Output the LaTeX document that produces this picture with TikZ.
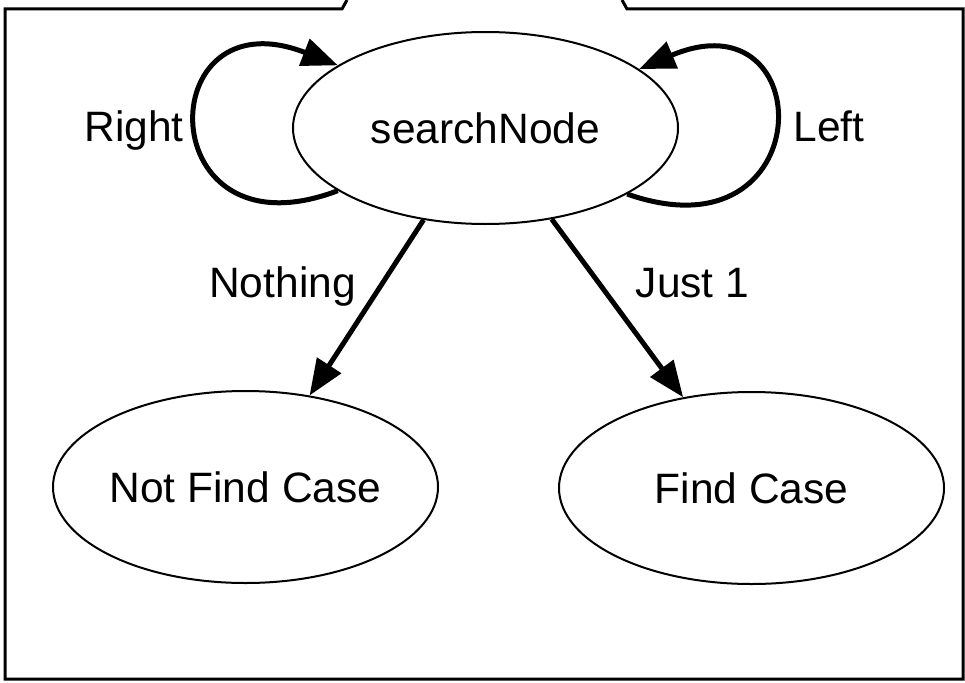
\documentclass[tikz,border=0pt]{standalone}
\usepackage{fontspec}
\setmainfont{Liberation Sans}
\usetikzlibrary{shapes.geometric,arrows.meta}
\begin{document}
\begin{tikzpicture}[x=1pt,y=-1pt,
  state/.style={ellipse,draw,line width=2pt,inner sep=0pt,minimum width=385pt,minimum height=192pt,font=\fontsize{42.5}{50}\selectfont},
  lbl/.style={anchor=base,inner sep=0pt,font=\fontsize{42.5}{50}\selectfont},
  conn/.style={line width=5pt,-{Triangle[length=36pt 0,width=28pt 0]}},
  frame/.style={line width=3pt}]
\useasboundingbox (0,0) rectangle (965,682);
\draw[frame] (347,0) -- (342,9) -- (5,9) -- (5,679) -- (963,679) -- (963,9) -- (627,9) -- (622,0);
\node[state] (s) at (485.5,128) {searchNode};
\node[state] (nf) at (245.5,487) {Not Find Case};
\node[state] (fc) at (751.5,488) {Find Case};
\draw[conn] (s.236.7) -- (nf.55.8);
\draw[conn] (s.306.3) -- (fc.127);
\draw[conn] (s.203.4) .. controls (150,262) and (150,-8) .. (s.157.3);
\draw[conn] (s.335.8) .. controls (821,262) and (821,-8) .. (s.21.7);
\node[lbl] (lr) at (134,141) {Right};
\node[lbl] (ll) at (829,141) {Left};
\node[lbl] (ln) at (282.5,297) {Nothing};
\node[lbl] (lj) at (692.5,297) {Just 1};
\end{tikzpicture}
\end{document}
